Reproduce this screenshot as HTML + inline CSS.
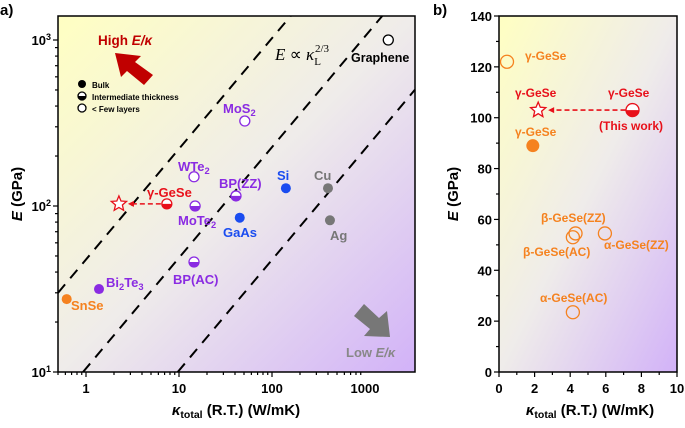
<!DOCTYPE html>
<html><head><meta charset="utf-8">
<style>
html,body{margin:0;padding:0;background:#fff;overflow:hidden;width:685px;height:428px;}
svg{display:block;font-family:"Liberation Sans",Arial,sans-serif;font-weight:bold;}
</style></head>
<body>
<svg id="chart" width="685" height="428" viewBox="0 0 685 428" xmlns="http://www.w3.org/2000/svg">
<defs>
<linearGradient id="bg" x1="0" y1="0" x2="1" y2="1">
<stop offset="0" stop-color="#ffffc2"/>
<stop offset="0.5" stop-color="#efecea"/>
<stop offset="1" stop-color="#d2b2f8"/>
</linearGradient>
</defs>
<g id="pa"></g>
<g id="pb"></g>
</svg>
<script>
// Panel a data
const aNames = ["Graphene","MoS2","WTe2","γ-GeSe","MoTe2","BP(ZZ)","BP(AC)","Si","GaAs","Cu","Ag","Bi2Te3","SnSe"];
const aKappa = [1780,51,14.5,7.4,14.9,41,14.5,141,45,400,420,1.38,0.62];
const aE = [1000,325,150,103,100,115,46,128,85,128,82,31.6,27.5];
const aType = ["open","open","open","half","half","half","half","bulk","bulk","bulk","bulk","bulk","bulk"];
const aColor = ["#000","#8a2be2","#8a2be2","#e8101a","#8a2be2","#8a2be2","#8a2be2","#1a4cf0","#1a4cf0","#777","#777","#8a2be2","#f5821f"];
const starA = [2.26,103];
const lineC = [47.6,10.5,2.2];
const aXTicks = [1,10,100,1000];
const aYTicks = [10,100,1000];
// Panel b data
const bNames = ["γ-GeSe","γ-GeSe","γ-GeSe","β-GeSe(ZZ)","β-GeSe(AC)","α-GeSe(ZZ)","α-GeSe(AC)"];
const bKappa = [0.45,7.5,1.9,4.3,4.15,5.95,4.15];
const bE = [122,103,89,54.5,53,54.5,23.5];
const bType = ["open","half","bulk","open","open","open","open"];
const bColor = ["#f5821f","#e8101a","#f5821f","#f5821f","#f5821f","#f5821f","#f5821f"];
const starB = [2.2,103];
const bXTicks = [0,2,4,6,8,10];
const bYTicks = [0,20,40,60,80,100,120,140];

const NS="http://www.w3.org/2000/svg";
function mk(p,tag,at,txt){const e=document.createElementNS(NS,tag);for(const k in at)e.setAttribute(k,at[k]);if(txt!==undefined)e.textContent=txt;p.appendChild(e);return e;}

const A={l:58,r:415,t:16,b:372};
const ax=k=>86+93*Math.log10(k);
const ay=E=>372-166*(Math.log10(E)-1);
const axInv=x=>Math.pow(10,(x-86)/93);
const ayInv=y=>Math.pow(10,1+(372-y)/166);
const pa=document.getElementById('pa');
let r=mk(pa,'rect',{x:A.l,y:A.t,width:A.r-A.l,height:A.b-A.t,fill:'url(#bg)'});

lineC.forEach((C,i)=>{
 const kx1=axInv(A.l),kx2=axInv(A.r);
 const ke1=Math.pow(ayInv(A.b)/C,1.5),ke2=Math.pow(ayInv(A.t)/C,1.5);
 const k1=Math.max(kx1,ke1),k2=Math.min(kx2,ke2);
 const l=mk(pa,'line',{x1:ax(k1),y1:ay(C*Math.pow(k1,2/3)),x2:ax(k2),y2:ay(C*Math.pow(k2,2/3)),stroke:'#000','stroke-width':2,'stroke-dasharray':'11,8'});
 
});
mk(pa,'rect',{x:A.l,y:A.t,width:A.r-A.l,height:A.b-A.t,fill:'none',stroke:'#000','stroke-width':1.5});
for(let d=0;d<4;d++){for(let m=1;m<10;m++){const k=Math.pow(10,d-1)*m;const x=ax(k);if(x<A.l||x>A.r)continue;const L=m===1?5:3;mk(pa,'line',{x1:x,y1:A.b,x2:x,y2:A.b+L,stroke:'#000','stroke-width':1.2});}}
for(let d=1;d<4;d++){for(let m=1;m<10;m++){const E=Math.pow(10,d)*m;const y=ay(E);if(y<A.t||y>A.b)continue;const L=m===1?5:3;mk(pa,'line',{x1:A.l,y1:y,x2:A.l-L,y2:y,stroke:'#000','stroke-width':1.2});}}
aXTicks.forEach(k=>{const t=mk(pa,'text',{x:ax(k),y:A.b+21,'font-size':13,'text-anchor':'middle'},k);});
aYTicks.forEach(E=>{const t=mk(pa,'text',{x:A.l-7,y:ay(E)+5,'font-size':13,'text-anchor':'end'});
 mk(t,'tspan',{},'10');mk(t,'tspan',{dy:-5,'font-size':9},String(Math.round(Math.log10(E))));});

function marker(p,x,y,rad,type,col,name){
 const g=mk(p,'g',{});
 if(type==='bulk'){mk(g,'circle',{cx:x,cy:y,r:rad,fill:col});}
 else if(type==='open'){mk(g,'circle',{cx:x,cy:y,r:rad,fill:'#fff','fill-opacity':p.id==='pb'?0:1,stroke:col,'stroke-width':1.3});}
 else{mk(g,'circle',{cx:x,cy:y,r:rad,fill:'#fff',stroke:col,'stroke-width':1.3});
  mk(g,'path',{d:`M${x-rad} ${y} A${rad} ${rad} 0 0 0 ${x+rad} ${y} Z`,fill:col});}
}
function star(p,x,y,R,col,fill){const pts=[];for(let i=0;i<10;i++){const a=-Math.PI/2+i*Math.PI/5;const rr=i%2?R*0.45:R;pts.push((x+rr*Math.cos(a)).toFixed(1)+','+(y+rr*Math.sin(a)).toFixed(1));}
 const s=mk(p,'polygon',{points:pts.join(' '),fill:fill,stroke:col,'stroke-width':1.3});}

const ar=mk(pa,'g',{});
mk(ar,'line',{x1:ax(aKappa[3])-6,y1:ay(aE[3]),x2:ax(starA[0])+12,y2:ay(aE[3]),stroke:'#e8101a','stroke-width':1.6,'stroke-dasharray':'5,3'});
mk(ar,'path',{d:`M${ax(starA[0])+9} ${ay(aE[3])} l6 -3 l0 6 z`,fill:'#e8101a'});
star(pa,ax(starA[0]),ay(starA[1]),8,'#e8101a','#fff');
aKappa.forEach((k,i)=>marker(pa,ax(k),ay(aE[i]),5,aType[i],aColor[i],'point-'+aNames[i].toLowerCase().replace(/[^a-z0-9]+/g,'-')));
function lab(p,x,y,txt,col,size,sub,name){const t=mk(p,'text',{x:x,y:y,fill:col,'font-size':size||13});
 if(sub){mk(t,'tspan',{},txt);mk(t,'tspan',{dy:3,'font-size':(size||13)*0.72},sub.s);if(sub.r)mk(t,'tspan',{dy:-3},sub.r);}else t.textContent=txt;return t;}
lab(pa,351,62,'Graphene','#000',12.5);
lab(pa,223,113,'MoS','#8a2be2',13,{s:'2'});
lab(pa,178,171,'WTe','#8a2be2',13,{s:'2'});
lab(pa,219,188,'BP(ZZ)','#8a2be2',13);
lab(pa,147,197,'γ-GeSe','#e8101a',13);
lab(pa,178,225,'MoTe','#8a2be2',13,{s:'2'});
lab(pa,223,237,'GaAs','#1a4cf0',13);
lab(pa,277,180,'Si','#1a4cf0',13);
lab(pa,314,180,'Cu','#777',13);
lab(pa,330,240,'Ag','#777',13);
lab(pa,173,284,'BP(AC)','#8a2be2',13);
lab(pa,106,287,'Bi','#8a2be2',13,{s:'2',r:'Te'}).lastChild.after(mk(pa.lastChild,'tspan',{dy:3,'font-size':9.4},'3'));
lab(pa,71,310,'SnSe','#f5821f',13);
const f=mk(pa,'text',{x:275,y:60,'font-size':17,'font-weight':'normal','font-family':'"Liberation Serif",serif'});
mk(f,'tspan',{'font-style':'italic'},'E');mk(f,'tspan',{},' ∝ ');mk(f,'tspan',{'font-style':'italic'},'κ');mk(f,'tspan',{dy:5,'font-size':11},'L');mk(f,'tspan',{dy:-13,dx:-6,'font-size':11},'2/3');
const lg=mk(pa,'g',{});
[['bulk','Bulk'],['half','Intermediate thickness'],['open','< Few layers']].forEach((e,i)=>{marker(lg,82,84+i*12,4,e[0],'#000','legend-marker');const t=mk(lg,'text',{x:92,y:88+i*12,'font-size':8},e[1]);});
const ra=mk(pa,'path',{d:'M115 53 L141 56 L135 62 L153 75 L144 85 L127 71 L121 77 Z',fill:'#c00000'});
const ht=mk(pa,'text',{x:98,y:45,fill:'#c00000','font-size':13.5});
mk(ht,'tspan',{},'High ');mk(ht,'tspan',{'font-style':'italic'},'E/κ');
const ga=mk(pa,'path',{d:'M390 337 L364 336 L370 329 L354 316 L364 304 L379 318 L387 311 Z',fill:'#777'});
const lt=mk(pa,'text',{x:346,y:357,fill:'#888','font-size':13});
mk(lt,'tspan',{},'Low ');mk(lt,'tspan',{'font-style':'italic'},'E/κ');
const xt=mk(pa,'text',{x:236,y:415,'font-size':15,'text-anchor':'middle'});
mk(xt,'tspan',{'font-style':'italic'},'κ');mk(xt,'tspan',{dy:3,'font-size':10.5},'total');mk(xt,'tspan',{dy:-3},' (R.T.) (W/mK)');
const yt=mk(pa,'text',{transform:'translate(22,194) rotate(-90)','font-size':15,'text-anchor':'middle'});
mk(yt,'tspan',{'font-style':'italic'},'E');mk(yt,'tspan',{},' (GPa)');
const pl=mk(pa,'text',{x:0,y:15,'font-size':15},'a)');

const B={l:499,r:677,t:16,b:372};
const bx=k=>B.l+(B.r-B.l)*k/10;
const by=E=>B.b-(B.b-B.t)*E/140;
const pb=document.getElementById('pb');
r=mk(pb,'rect',{x:B.l,y:B.t,width:B.r-B.l,height:B.b-B.t,fill:'url(#bg)'});
mk(pb,'rect',{x:B.l,y:B.t,width:B.r-B.l,height:B.b-B.t,fill:'none',stroke:'#000','stroke-width':1.5});
for(let k=0;k<=10;k++){mk(pb,'line',{x1:bx(k),y1:B.b,x2:bx(k),y2:B.b+(k%2?3:5),stroke:'#000','stroke-width':1.2});}
for(let E=0;E<=140;E+=10){mk(pb,'line',{x1:B.l,y1:by(E),x2:B.l-(E%20?3:5),y2:by(E),stroke:'#000','stroke-width':1.2});}
bXTicks.forEach(k=>{const t=mk(pb,'text',{x:bx(k),y:B.b+21,'font-size':13,'text-anchor':'middle'},k);});
bYTicks.forEach(E=>{const t=mk(pb,'text',{x:B.l-7,y:by(E)+5,'font-size':13,'text-anchor':'end'},E);});
const br=mk(pb,'g',{});
mk(br,'line',{x1:bx(bKappa[1])-7,y1:by(bE[1]),x2:bx(starB[0])+14,y2:by(bE[1]),stroke:'#e8101a','stroke-width':1.6,'stroke-dasharray':'5,3'});
mk(br,'path',{d:`M${bx(starB[0])+10} ${by(bE[1])} l6 -3 l0 6 z`,fill:'#e8101a'});
star(pb,bx(starB[0]),by(starB[1]),8,'#e8101a','#fff');
bKappa.forEach((k,i)=>marker(pb,bx(k),by(bE[i]),6.5,bType[i],bColor[i],'point-b-'+i));
lab(pb,525,60,'γ-GeSe','#f5821f',12);
lab(pb,515,97,'γ-GeSe','#e8101a',12);
lab(pb,608,97,'γ-GeSe','#e8101a',12);
lab(pb,599,130,'(This work)','#e8101a',12);
lab(pb,515,136,'γ-GeSe','#f5821f',12);
lab(pb,541,222,'β-GeSe(ZZ)','#f5821f',12);
lab(pb,523,256,'β-GeSe(AC)','#f5821f',12);
lab(pb,604,249,'α-GeSe(ZZ)','#f5821f',12);
lab(pb,540,302,'α-GeSe(AC)','#f5821f',12);
const xb=mk(pb,'text',{x:590,y:415,'font-size':15,'text-anchor':'middle'});
mk(xb,'tspan',{'font-style':'italic'},'κ');mk(xb,'tspan',{dy:3,'font-size':10.5},'total');mk(xb,'tspan',{dy:-3},' (R.T.) (W/mK)');
const yb=mk(pb,'text',{transform:'translate(458,194) rotate(-90)','font-size':15,'text-anchor':'middle'});
mk(yb,'tspan',{'font-style':'italic'},'E');mk(yb,'tspan',{},' (GPa)');
const pbl=mk(pb,'text',{x:433,y:15,'font-size':15},'b)');
</script>
</body></html>
